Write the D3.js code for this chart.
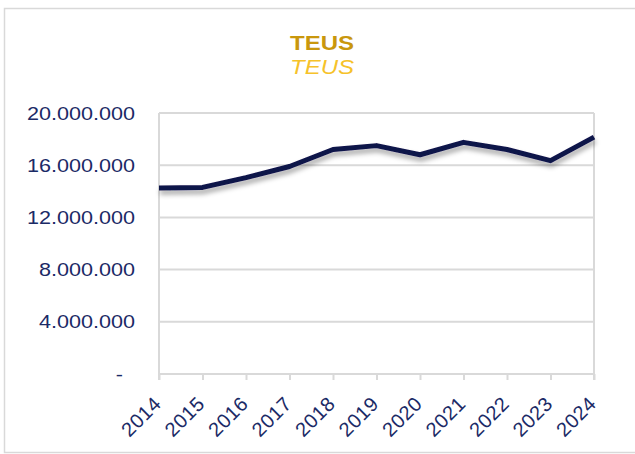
<!DOCTYPE html>
<html>
<head>
<meta charset="utf-8">
<script src="https://cdn.jsdelivr.net/npm/d3@7"></script>
<style>
  body { margin: 0; background: #fff; }
  svg { display: block; }
</style>
</head>
<body>
<div id="viz"></div>
<script>
const years = ['2014', '2015', '2016', '2017', '2018', '2019', '2020', '2021', '2022', '2023', '2024'];
const teus = [14250000, 14300000, 15050000, 15900000, 17200000, 17500000, 16800000, 17750000, 17200000, 16350000, 18150000];
const yTicks = [0, 4000000, 8000000, 12000000, 16000000, 20000000];

const width = 635;
const height = 454;
const margin = { top: 113, right: 41, bottom: 80, left: 159 };
const GRID = '#d9d9d9';
const NAVY = '#1b2a66';
const STRETCH = 1.2; // text in the picture is drawn a bit wide

const svg = d3.select('#viz')
  .append('svg')
  .attr('width', width)
  .attr('height', height);

// drop shadow for the line
const defs = svg.append('defs');
defs.append('filter')
  .attr('id', 'shadow')
  .attr('x', '-10%').attr('y', '-50%')
  .attr('width', '120%').attr('height', '200%')
  .append('feDropShadow')
  .attr('dx', 1).attr('dy', 4)
  .attr('stdDeviation', 2.5)
  .attr('flood-color', '#000')
  .attr('flood-opacity', 0.35);

// outer chart border
svg.append('rect')
  .attr('x', 4.5).attr('y', 8.5)
  .attr('width', 640).attr('height', 444)
  .attr('fill', 'none')
  .attr('stroke', GRID)
  .attr('stroke-width', 1.5);

svg.append('text')
  .attr('transform', `translate(322,50) scale(${STRETCH},1)`)
  .attr('text-anchor', 'middle')
  .style('font', 'bold 20px "Liberation Sans", Arial, sans-serif')
  .style('fill', '#c9970d')
  .text('TEUS');

svg.append('text')
  .attr('transform', `translate(322,74) scale(${STRETCH},1)`)
  .attr('text-anchor', 'middle')
  .style('font', 'italic 20px "Liberation Sans", Arial, sans-serif')
  .style('fill', '#f6c22a')
  .text('TEUS');

const x = d3.scalePoint()
  .domain(years)
  .range([margin.left, width - margin.right]);

const y = d3.scaleLinear()
  .domain([0, 20000000])
  .range([height - margin.bottom, margin.top]);

const fmt = d => d === 0 ? '-' : d3.format(',')(d).replace(/,/g, '.');

// gridlines
svg.append('g')
  .selectAll('line')
  .data(yTicks)
  .enter()
  .append('line')
  .attr('x1', margin.left).attr('x2', width - margin.right)
  .attr('y1', d => y(d)).attr('y2', d => y(d))
  .attr('stroke', GRID)
  .attr('stroke-width', 2);

// side borders of the plot area
[margin.left, width - margin.right].forEach(px => {
  svg.append('line')
    .attr('x1', px).attr('x2', px)
    .attr('y1', y(20000000)).attr('y2', y(0) + 6)
    .attr('stroke', GRID)
    .attr('stroke-width', 2);
});

// y labels
svg.append('g')
  .selectAll('text')
  .data(yTicks)
  .enter()
  .append('text')
  .attr('transform', d => `translate(${d === 0 ? 123 : 135},${y(d) + 6.5}) scale(${STRETCH},1)`)
  .attr('text-anchor', 'end')
  .style('font', '18px "Liberation Sans", Arial, sans-serif')
  .style('fill', NAVY)
  .text(fmt);

// x axis ticks and labels
const xAxis = svg.append('g')
  .attr('transform', `translate(0,${y(0)})`)
  .call(d3.axisBottom(x).tickSize(6).tickPadding(6));

xAxis.select('.domain').remove();
xAxis.selectAll('.tick line')
  .attr('stroke', GRID)
  .attr('stroke-width', 2);
xAxis.selectAll('.tick text')
  .attr('transform', 'translate(3,31) rotate(-45)')
  .attr('text-anchor', 'end')
  .attr('y', 0)
  .attr('dy', '0')
  .attr('dx', '0')
  .style('font', '20px "Liberation Sans", Arial, sans-serif')
  .style('letter-spacing', '0.5px')
  .style('fill', NAVY);

const line = d3.line()
  .x((d, i) => x(years[i]))
  .y(d => y(d));

svg.append('path')
  .datum(teus)
  .attr('d', line)
  .attr('fill', 'none')
  .attr('stroke', '#11124a')
  .attr('stroke-width', 5)
  .attr('stroke-linejoin', 'round')
  .attr('filter', 'url(#shadow)');
</script>
</body>
</html>
